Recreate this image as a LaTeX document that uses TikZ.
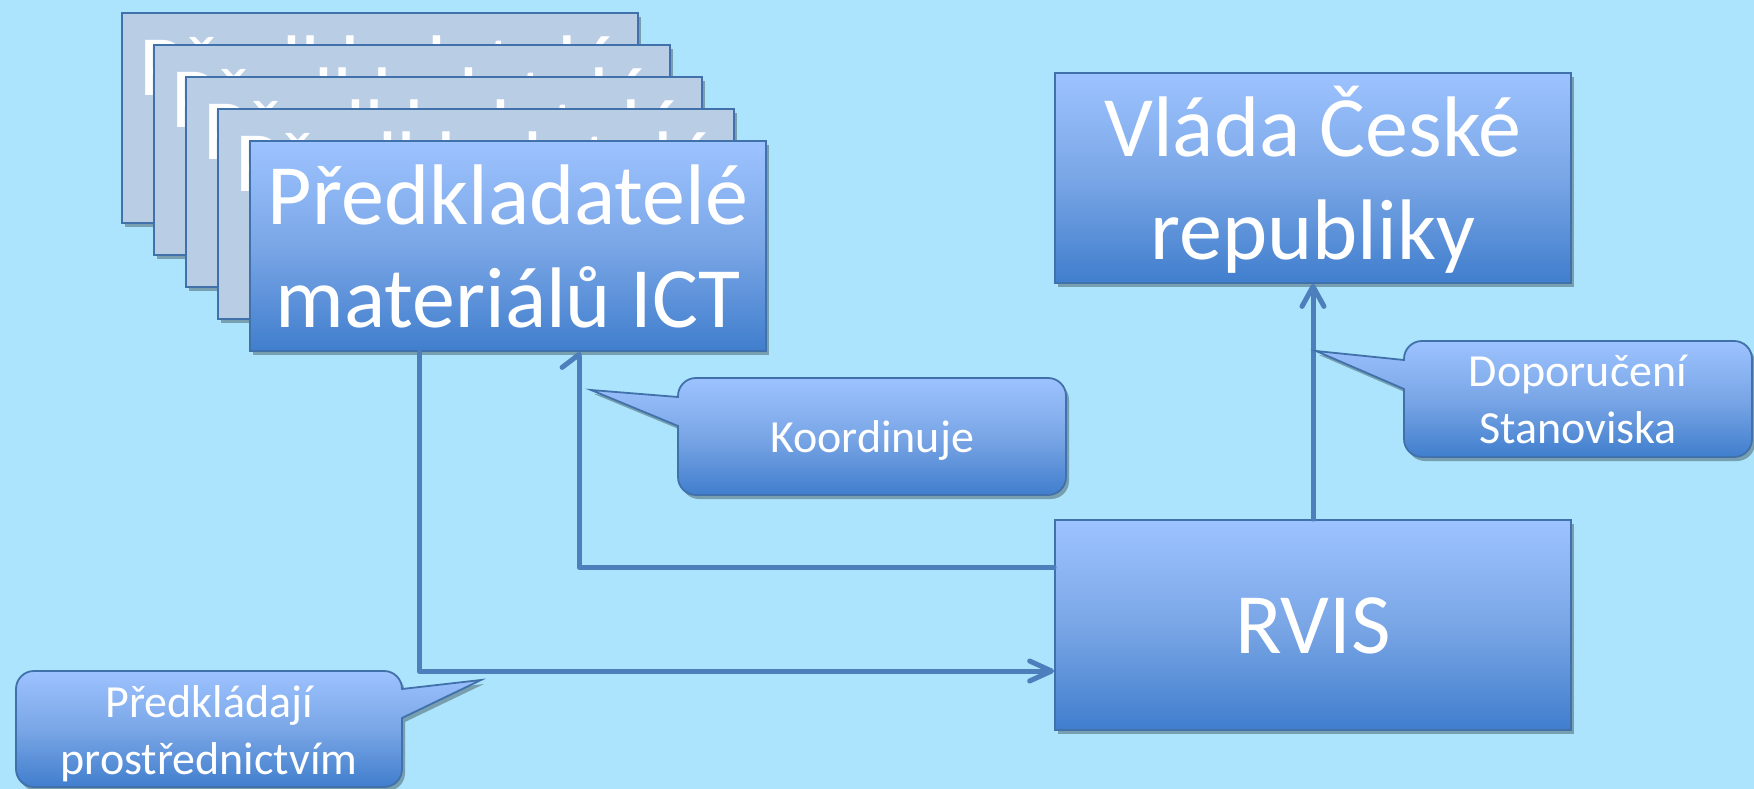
\documentclass[tikz,border=0pt]{standalone}
\usepackage{fontspec}
\setmainfont{Carlito}
\usetikzlibrary{arrows.meta,shadows,calc}
\definecolor{bgc}{RGB}{171,228,252}
\definecolor{ghost}{RGB}{185,205,229}
\definecolor{gtop}{RGB}{157,195,255}
\definecolor{gmid}{RGB}{122,166,230}
\definecolor{gbot}{RGB}{64,126,205}
\definecolor{edgec}{RGB}{65,113,170}
\definecolor{linec}{RGB}{76,127,188}
\begin{document}
\begin{tikzpicture}[x=1pt,y=-1pt,
  shad/.style={drop shadow={shadow xshift=3pt,shadow yshift=-4pt,fill=black,opacity=0.3}},
  boxbase/.style={rectangle,draw=edgec,line width=1.8pt,inner sep=0pt,
    text width=516pt,align=flush center,text=white,
    font=\fontsize{86}{103}\selectfont,shad},
  ghostbox/.style={boxbase,fill=ghost},
  bluebox/.style={boxbase,top color=gtop,bottom color=gbot,middle color=gmid},
  calltext/.style={rectangle,inner sep=0pt,align=flush center,text=white,
    font=\fontsize{46}{57}\selectfont},
  callout/.style={draw=edgec,line width=1.8pt,line join=miter,top color=gtop,bottom color=gbot,middle color=gmid,shad},
  conn/.style={draw=linec,line width=5pt,line cap=round,line join=round},
]
\useasboundingbox (0,0) rectangle (1754,789);
\fill[bgc] (0,0) rectangle (1754,789);

% stacked boxes
\node[ghostbox,text height=83pt,text depth=127pt] (g1) at (380,118) {Předkladatelé\\materiálů ICT};
\node[ghostbox,text height=83pt,text depth=127pt] (g2) at (412,150) {Předkladatelé\\materiálů ICT};
\node[ghostbox,text height=83pt,text depth=127pt] (g3) at (444,182) {Předkladatelé\\materiálů ICT};
\node[ghostbox,text height=83pt,text depth=127pt] (g4) at (476,214) {Předkladatelé\\materiálů ICT};
\node[bluebox,text height=83pt,text depth=127pt] (front) at (508,246) {Předkladatelé\\materiálů ICT};

\node[bluebox,text height=84pt,text depth=126pt] (vlada) at (1313,178) {Vláda České\\republiky};
\node[bluebox,text height=133pt,text depth=77pt] (rvis) at (1313,625) {RVIS};

% connectors
\draw[conn,-{Straight Barb[length=20pt,width=22pt,round]}] (rvis.north) -- (vlada.south);
\draw[conn,-{Straight Barb[left,length=13pt,width=34pt,round]}] ($(rvis.west)+(0,-58)$) -| ($(front.south west)+(330,0)$);
\draw[conn,-{Straight Barb[length=22pt,width=20pt,round]}] ($(front.south west)+(170,0)$) |- ($(rvis.west)+(0,46)$);

% callout tips
\coordinate (ktip) at (591,390);
\coordinate (dtip) at (1316,351);
\coordinate (ptip) at (481,680);

% callout shapes
\path[callout] (678,397) -- (ktip) -- (678,426) -- (678,477) .. controls (678,487) and (686,495) .. (696,495) -- (1048,495) .. controls (1058,495) and (1066,487) .. (1066,477) -- (1066,396) .. controls (1066,386) and (1058,378) .. (1048,378) -- (696,378) .. controls (686,378) and (678,386) .. (678,396) -- cycle;
\path[callout] (1404,360) -- (dtip) -- (1404,389) -- (1404,439) .. controls (1404,449) and (1412,457) .. (1422,457) -- (1734,457) .. controls (1744,457) and (1752,449) .. (1752,439) -- (1752,359) .. controls (1752,349) and (1744,341) .. (1734,341) -- (1422,341) .. controls (1412,341) and (1404,349) .. (1404,359) -- cycle;
\path[callout] (402,689) -- (ptip) -- (402,718) -- (402,769) .. controls (402,779) and (394,787) .. (384,787) -- (34,787) .. controls (24,787) and (16,779) .. (16,769) -- (16,689) .. controls (16,679) and (24,671) .. (34,671) -- (384,671) .. controls (394,671) and (402,679) .. (402,689) -- cycle;

% callout texts
\node[calltext,text width=388pt,text height=74pt,text depth=43pt] (koord) at (872,436.5) {Koordinuje};
\node[calltext,text width=348pt,text height=45pt,text depth=71pt] (dopor) at (1578,399) {Doporučení\\Stanoviska};
\node[calltext,text width=386pt,text height=46pt,text depth=70pt] (predk) at (209,729) {Předkládají\\prostřednictvím};
\end{tikzpicture}
\end{document}
